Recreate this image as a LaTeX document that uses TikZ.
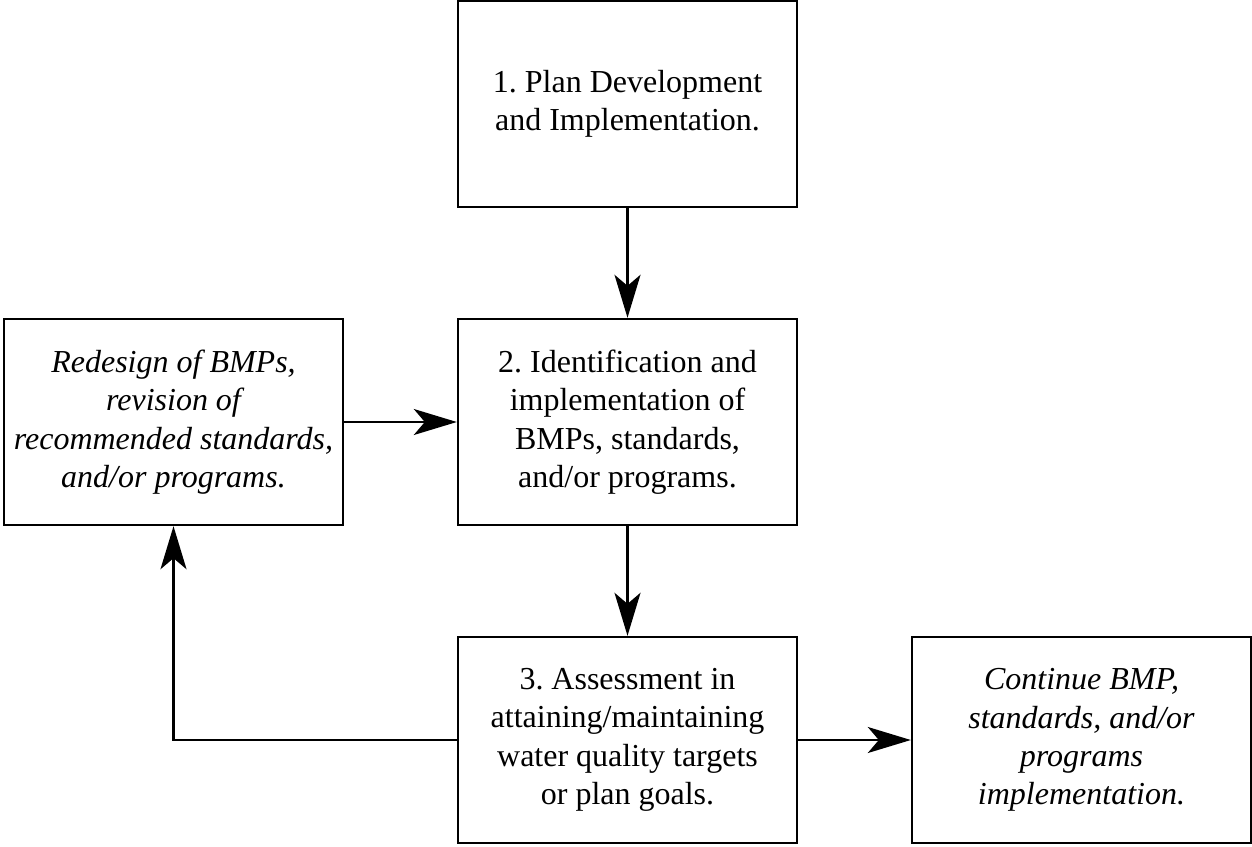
\documentclass[tikz,border=0pt]{standalone}
\usepackage{fontspec}
\setmainfont{Liberation Serif}
\usetikzlibrary{arrows.meta}
\begin{document}
\frenchspacing
\begin{tikzpicture}[x=1pt,y=-1pt,
  box/.style={draw=black, line width=2.4pt, minimum width=339pt, minimum height=206pt,
    inner sep=0pt, align=center, font=\fontsize{32}{38.4}\selectfont\frenchspacing},
  ibox/.style={box, font=\fontsize{32}{38.4}\selectfont\itshape\frenchspacing},
  conn/.style={line width=2.2pt, -{Stealth[length=43pt,width=26pt,inset=11pt]}}]
\useasboundingbox (0,0) rectangle (1252,846);
\node[box] (n1) at (627.5,104) {1. Plan Development\\and Implementation.};
\node[box] (n2) at (627.5,422) {2. Identification and\\implementation of\\BMPs, standards,\\and/or programs.};
\node[ibox] (nl) at (173.5,422) {Redesign of BMPs,\\revision of\\recommended standards,\\and/or programs.};
\node[box] (n3) at (627.5,740) {3. Assessment in\\attaining/maintaining\\water quality targets\\or plan goals.};
\node[ibox] (nr) at (1081.5,740) {Continue BMP,\\standards, and/or\\programs\\implementation.};
\draw[conn] (n1) -- (n2);
\draw[conn] (n2) -- (n3);
\draw[conn] (nl) -- (n2);
\draw[conn] (n3) -- (nr);
\draw[conn] (n3.west) -| (nl.south);
\end{tikzpicture}
\end{document}
